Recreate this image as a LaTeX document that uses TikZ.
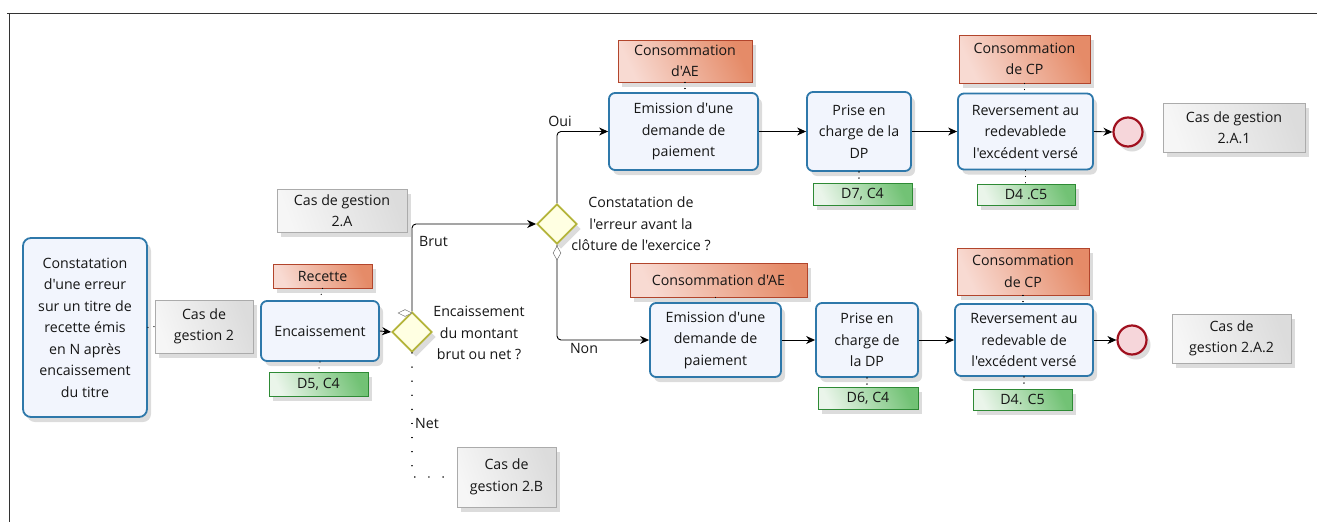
\documentclass[tikz,border=0pt]{standalone}
\usepackage{fontspec}
\newfontfamily\uifont{Open Sans}
\usetikzlibrary{shapes.geometric,arrows.meta,shadows}
\definecolor{taskblue}{HTML}{2E78AA}
\definecolor{taskfill}{HTML}{F2F5FD}
\definecolor{gwbord}{HTML}{B4B43A}
\definecolor{gwfill}{HTML}{FFFFE2}
\definecolor{endbord}{HTML}{A0101E}
\definecolor{endfill}{HTML}{F6D6DA}
\definecolor{redbord}{HTML}{B2452C}
\definecolor{redA}{HTML}{F8DAD2}
\definecolor{redB}{HTML}{E58B68}
\definecolor{grnbord}{HTML}{2E8A35}
\definecolor{grnA}{HTML}{EAF5EA}
\definecolor{grnB}{HTML}{72C275}
\definecolor{annbord}{HTML}{ABABAB}
\definecolor{annA}{HTML}{F6F6F6}
\definecolor{annB}{HTML}{DCDCDC}
\definecolor{txt}{HTML}{161616}
\tikzset{
  every node/.style={text=txt, font=\uifont\fontsize{14.2}{21.5}\selectfont},
  shd/.style={drop shadow={shadow xshift=4pt, shadow yshift=-5pt, opacity=.25, fill=black!55}},
  task/.style={draw=taskblue, line width=1.8pt, rounded corners=6pt, fill=taskfill, align=center, inner sep=0pt, shd},
  annot/.style={draw=annbord, line width=0.7pt, left color=annA, right color=annB, shading angle=110, align=center, inner sep=0pt, shd},
  datared/.style={draw=redbord, line width=0.7pt, left color=redA, right color=redB, shading angle=115, align=center, inner sep=0pt, shd},
  datagrn/.style={draw=grnbord, line width=0.7pt, left color=grnA, right color=grnB, shading angle=115, align=center, inner sep=0pt, shd},
  gateway/.style={diamond, draw=gwbord, line width=1.8pt, fill=gwfill, minimum width=40pt, minimum height=40pt, inner sep=0pt, shd},
  endev/.style={circle, draw=endbord, line width=2.2pt, fill=endfill, minimum size=29pt, inner sep=0pt, shd},
  flow/.style={draw=black, line width=0.9pt, rounded corners=4pt, -{Stealth[length=9pt,width=8pt]}},
  assoc/.style={draw=black, line width=1.2pt, line cap=round, dash pattern=on 0.1pt off 6pt},
  netflow/.style={draw=black, line width=1.3pt, line cap=round, dash pattern=on 0.1pt off 14pt},
  lbl/.style={align=center, inner sep=0pt},
  marker/.style={diamond, draw=black!55, fill=white, line width=0.5pt, inner sep=0pt}
}
\begin{document}
\begin{tikzpicture}[x=1pt,y=-1pt]
\useasboundingbox (0,0) rectangle (1317,522);
% frame
\draw[line width=0.8pt, black!80] (7,13) -- (1317,13);
\draw[line width=0.8pt, black!80] (9,13) -- (9,522);

% left part
\node[task, rounded corners=8pt, minimum width=124pt, minimum height=179pt] (start) at (85,327.5)
  {Constatation\\d'une erreur\\sur un titre de\\recette émis\\en N après\\encaissement\\du titre};
\node[annot, minimum width=98pt, minimum height=53pt] (cg2) at (204,326.5) {Cas de\\gestion 2};
\node[annot, minimum width=130pt, minimum height=43pt] (cg2A) at (342,210.5) {Cas de gestion\\2.A};
\node[datared, minimum width=99pt, minimum height=24pt] (rec) at (322.5,276) {Recette};
\node[task, minimum width=118pt, minimum height=60pt] (enc) at (320,331) {Encaissement};
\node[datagrn, minimum width=99pt, minimum height=24pt] (d5) at (318.5,384) {D5, C4};
\node[gateway] (gw1) at (412,332) {};
\node[lbl] (gw1l) at (479,333) {Encaissement\\du montant\\brut ou net ?};
\node[annot, minimum width=99pt, minimum height=60pt] (cg2B) at (506.5,477) {Cas de\\gestion 2.B};

\node[gateway] (gw2) at (557,224) {};
\node[lbl] (gw2l) at (641,224) {Constatation de\\l'erreur avant la\\clôture de l'exercice ?};

% top row
\node[datared, minimum width=134pt, minimum height=42pt] (ae1) at (685,61) {Consommation\\d'AE};
\node[task, minimum width=149pt, minimum height=77pt] (em1) at (683.5,131.5) {Emission d'une\\demande de\\paiement};
\node[task, minimum width=104pt, minimum height=79pt] (pr1) at (859,131.5) {Prise en\\charge de la\\DP};
\node[datagrn, minimum width=99pt, minimum height=22pt] (d7) at (862.5,194) {D7, C4};
\node[datared, minimum width=131pt, minimum height=48pt] (cp1) at (1024.5,59) {Consommation\\de CP};
\node[task, minimum width=135pt, minimum height=76pt] (rv1) at (1025.5,131.5) {Reversement au\\redevablede\\l'excédent versé};
\node[datagrn, minimum width=98pt, minimum height=21pt] (d41) at (1026,194.5) {D4 .C5};
\node[endev] (end1) at (1128,132) {};
\node[annot, minimum width=142pt, minimum height=49pt] (cg2A1) at (1234,127.5) {Cas de gestion\\2.A.1};

% bottom row
\node[datared, minimum width=177pt, minimum height=34pt] (ae2) at (718.5,280) {Consommation d'AE};
\node[task, minimum width=131pt, minimum height=74pt] (em2) at (715.5,340) {Emission d'une\\demande de\\paiement};
\node[task, minimum width=102pt, minimum height=74pt] (pr2) at (867,340) {Prise en\\charge de\\la DP};
\node[datagrn, minimum width=100pt, minimum height=22pt] (d6) at (868,398) {D6, C4};
\node[datared, minimum width=132pt, minimum height=47pt] (cp2) at (1023,271.5) {Consommation\\de CP};
\node[task, minimum width=138pt, minimum height=72pt] (rv2) at (1024,340) {Reversement au\\redevable de\\l'excédent versé};
\node[datagrn, minimum width=99pt, minimum height=21pt] (d42) at (1022.5,399.5) {D4. C5};
\node[endev] (end2) at (1132,340) {};
\node[annot, minimum width=119pt, minimum height=49pt] (cg2A2) at (1231.5,338.5) {Cas de\\gestion 2.A.2};

% flows
\draw[flow] (enc.east) -- (gw1.west);
\draw[flow] (gw1.north) |- (gw2.west);
\draw[flow] (gw2.north) |- (em1.west);
\draw[flow] (gw2.south) |- (em2.west);
\draw[netflow] (gw1.south) |- (cg2B.west);
\draw[flow] (em1.east) -- (pr1.west |- em1.east);
\draw[flow] (pr1.east) -- (rv1.west |- pr1.east);
\draw[flow] (rv1.east) -- (end1.west);
\draw[flow] (em2.east) -- (pr2.west);
\draw[flow] (pr2.east) -- (rv2.west);
\draw[flow] (rv2.east) -- (end2.west);

% markers
\node[marker, minimum width=14pt, minimum height=7pt] (m1) at (405,313) {};
\node[marker, minimum width=8pt, minimum height=14pt] (m2) at (557,253) {};

% associations
\draw[assoc] (start.east) -- (cg2.west);
\draw[assoc] (rec.south) -- (enc.north);
\draw[assoc] (enc.south) -- (d5.north);
\draw[assoc] (ae1.south) -- (ae1.south |- em1.north);
\draw[assoc] (pr1.south) -- (pr1.south |- d7.north);
\draw[assoc] (cp1.south) -- (cp1.south |- rv1.north);
\draw[assoc] (rv1.south) -- (rv1.south |- d41.north);
\draw[assoc] (ae2.south -| em2.north) -- (em2.north);
\draw[assoc] (pr2.south) -- (pr2.south |- d6.north);
\draw[assoc] (cp2.south) -- (cp2.south |- rv2.north);
\draw[assoc] (rv2.south) -- (rv2.south |- d42.north);

% flow labels
\node[lbl, anchor=west] (lbrut) at (419,241) {Brut};
\node[lbl, anchor=west] (lnet) at (415,423) {Net};
\node[lbl] (loui) at (560,121) {Oui};
\node[lbl] (lnon) at (584,348) {Non};
\end{tikzpicture}
\end{document}
